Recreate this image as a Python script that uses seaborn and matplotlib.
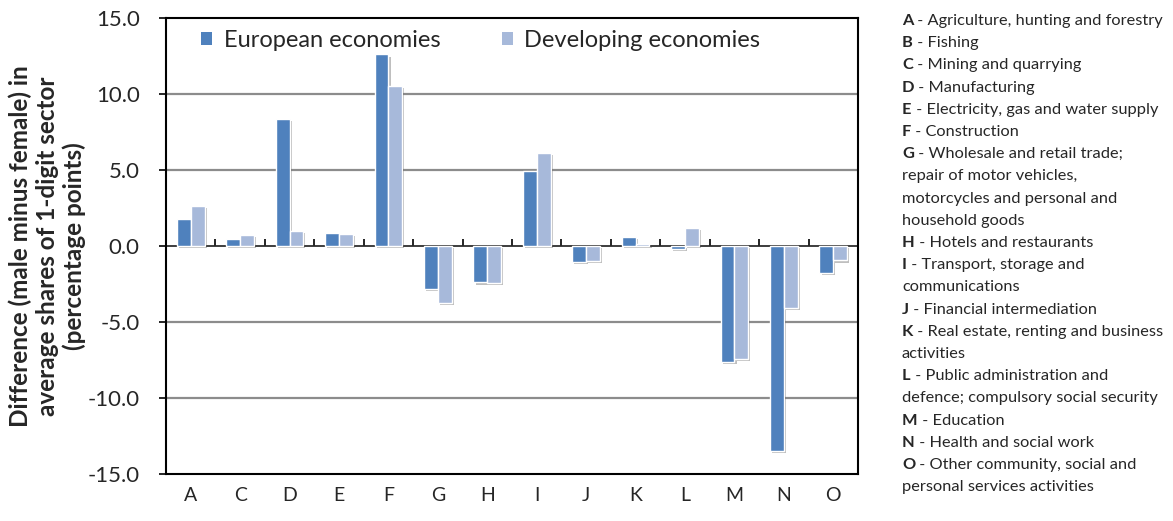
import matplotlib
matplotlib.use("Agg")
import matplotlib.pyplot as plt
import matplotlib.patheffects as pe
import numpy as np
import pandas as pd
import seaborn as sns

# ---- data ----
categories = ["A", "C", "D", "E", "F", "G", "H", "I", "J", "K", "L", "M", "N", "O"]
european = [1.75, 0.48, 8.35, 0.85, 12.6, -2.8, -2.4, 4.95, -1.05, 0.57, -0.22, -7.65, -13.5, -1.75]
developing = [2.65, 0.72, 1.0, 0.82, 10.5, -3.75, -2.43, 6.15, -0.96, 0.1, 1.2, -7.45, -4.1, -0.95]
series_names = ["European economies", "Developing economies"]
y_ticks = [-15, -10, -5, 0, 5, 10, 15]
sector_codes = ["A", "B", "C", "D", "E", "F", "G", "", "", "", "H", "I", "", "J", "K", "", "L", "", "M", "N", "O", ""]
sector_texts = [
    " - Agriculture, hunting and forestry",
    " - Fishing",
    " - Mining and quarrying",
    " - Manufacturing",
    " - Electricity, gas and water supply",
    " - Construction",
    " - Wholesale and retail trade;",
    "repair of motor vehicles,",
    "motorcycles and personal and",
    "household goods",
    " - Hotels and restaurants",
    " - Transport, storage and",
    "communications",
    " - Financial intermediation",
    " - Real estate, renting and business",
    "activities",
    " - Public administration and",
    "defence; compulsory social security",
    " - Education",
    " - Health and social work",
    " - Other community, social and",
    "personal services activities",
]

df = pd.DataFrame({
    "sector": categories * 2,
    "value": european + developing,
    "series": [series_names[0]] * len(categories) + [series_names[1]] * len(categories),
})

sns.set_theme(style="white")
plt.rcParams["font.family"] = ["Lato", "DejaVu Sans"]

fig = plt.figure(figsize=(11.73, 5.21), dpi=100)
ax = fig.add_axes([0.1415, 0.0902, 0.59, 0.8753])

palette = {series_names[0]: "#4F81BD", series_names[1]: "#A7B9DA"}
sns.barplot(data=df, x="sector", y="value", hue="series", palette=palette,
            width=0.56, saturation=1, edgecolor="white", linewidth=1.0,
            ax=ax, zorder=3, errorbar=None)

for p in ax.patches:
    p.set_path_effects([pe.SimplePatchShadow(offset=(1.5, -1.5), shadow_rgbFace="#000000", alpha=0.25), pe.Normal()])

ax.set_ylim(-15, 15)
ax.set_xlim(-0.5, len(categories) - 0.5)
ax.set_yticks(y_ticks)
ax.set_yticklabels([f"{v:.1f}" for v in y_ticks], fontsize=16)
ax.tick_params(axis="y", direction="out", length=5, width=1.2, color="black", pad=14, left=True)
ax.tick_params(axis="x", length=0, labelsize=14, pad=9)
ax.set_xlabel("")
ax.set_ylabel("Difference (male minus female) in\naverage shares of 1-digit sector\n(percentage points)",
              fontsize=17.5, fontweight="bold", labelpad=1, linespacing=1.18)

for v in [-10, -5, 5, 10]:
    ax.axhline(v, color="#8C8C8C", linewidth=1.6, zorder=1)

for s in ax.spines.values():
    s.set_color("black")
    s.set_linewidth(1.5)

# zero axis with category-boundary ticks
sec = ax.secondary_xaxis(0.5)
sec.set_xticks(np.arange(len(categories) + 1) - 0.5)
sec.set_xticklabels([])
sec.tick_params(direction="out", length=5, width=1.2, color="black")
sec.spines["bottom"].set_linewidth(1.5)
sec.spines["bottom"].set_color("black")

leg = ax.legend(loc="upper center", bbox_to_anchor=(0.455, 1.02), ncol=2, frameon=False,
                fontsize=17, handlelength=0.45, handleheight=0.45, columnspacing=2.6,
                handletextpad=0.5)
for h in leg.legend_handles:
    h.set_path_effects([])
    h.set_edgecolor("none")

# sector key
renderer = fig.canvas.get_renderer()
x0 = 902 / 1173
y_start = 1 - 21 / 521
dy = 22.2 / 521
for i, (code, txt) in enumerate(zip(sector_codes, sector_texts)):
    y = y_start - i * dy
    if code:
        t = fig.text(x0, y, code, fontsize=11.8, fontweight="bold", va="center", ha="left")
        w = t.get_window_extent(renderer=renderer).width / fig.bbox.width
        fig.text(x0 + w, y, txt, fontsize=11.8, va="center", ha="left")
    else:
        fig.text(x0, y, txt, fontsize=11.8, va="center", ha="left")

fig.savefig("out.png", dpi=100)
